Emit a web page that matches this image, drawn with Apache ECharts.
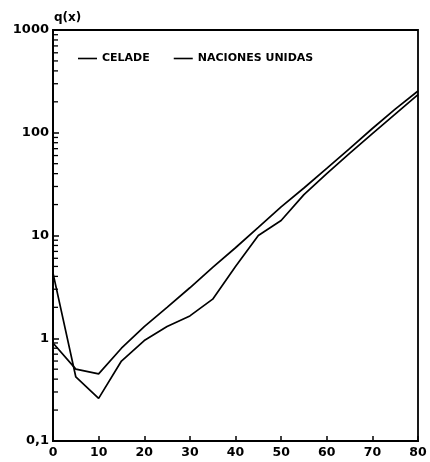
<!DOCTYPE html>
<html><head><meta charset="utf-8">
<script src="https://cdn.jsdelivr.net/npm/echarts@6/dist/echarts.min.js"></script>
<style>html,body{margin:0;padding:0;background:#fff}#c{width:430px;height:462px}</style>
</head><body><div id="c"></div>
<script>
const ages = [0,5,10,15,20,25,30,35,40,45,50,55,60,65,70,75,80];
const celade = [4.3,0.42,0.26,0.6,0.95,1.3,1.65,2.4,5,10,14,25,40,63,98,152,235];
const nacionesUnidas = [0.9,0.5,0.45,0.8,1.3,2.0,3.1,4.9,7.6,12,19,29,45,70,110,170,255];
const yTickLabels = {0.1:'0,1',1:'1',10:'10',100:'100',1000:'1000'};
const minorTickValues = [];
[0.1,1,10,100].forEach(d=>{for(let k=2;k<=9;k++) minorTickValues.push(+(d*k).toPrecision(3));});

const chart = echarts.init(document.getElementById('c'));
const fontFam = '"DejaVu Sans", "Liberation Sans", sans-serif';
chart.setOption({
  animation:false,
  backgroundColor:'#fff',
  grid:{left:53,right:12,top:30,bottom:21,show:true,borderColor:'#000',borderWidth:1.8,backgroundColor:'transparent'},
  title:{text:'q(x)',left:49,top:7,textStyle:{fontSize:12,fontWeight:'bold',color:'#000',fontFamily:fontFam}},
  legend:{left:73,top:48,itemWidth:19,itemHeight:1.6,itemGap:24,icon:'rect',
    textStyle:{fontSize:11,fontWeight:'bold',color:'#000',fontFamily:fontFam},
    data:['CELADE','NACIONES UNIDAS']},
  xAxis:{type:'value',min:0,max:80,interval:10,
    axisLine:{lineStyle:{color:'#000',width:1.8}},
    axisTick:{show:true,inside:true,length:5,lineStyle:{color:'#000',width:1.5}},
    splitLine:{show:false},
    axisLabel:{margin:5,fontSize:12.5,fontWeight:'bold',color:'#000',fontFamily:fontFam}},
  yAxis:{type:'log',logBase:10,min:0.1,max:1000,
    axisLine:{show:true,lineStyle:{color:'#000',width:1.8}},
    axisTick:{show:true,inside:true,length:6,lineStyle:{color:'#000',width:1.5}},
    splitLine:{show:false},
    axisLabel:{margin:4,fontSize:13,fontWeight:'bold',color:'#000',fontFamily:fontFam,
      formatter:v=>yTickLabels[+v.toPrecision(3)]||''}},
  series:[
    {name:'CELADE',type:'line',symbol:'none',data:ages.map((a,i)=>[a,celade[i]]),
      lineStyle:{color:'#000',width:1.7},itemStyle:{color:'#000'}},
    {name:'NACIONES UNIDAS',type:'line',symbol:'none',data:ages.map((a,i)=>[a,nacionesUnidas[i]]),
      lineStyle:{color:'#000',width:1.7},itemStyle:{color:'#000'}},
    {name:'minor',type:'custom',silent:true,clip:false,z:10,
      encode:{x:0,y:1},
      data:minorTickValues.map(v=>[0,v]),
      renderItem:(params,api)=>{
        const p = api.coord([api.value(0),api.value(1)]);
        return {type:'line',shape:{x1:p[0],y1:p[1],x2:p[0]+5,y2:p[1]},style:{stroke:'#000',lineWidth:1.3}};
      }}
  ]
});
</script></body></html>
